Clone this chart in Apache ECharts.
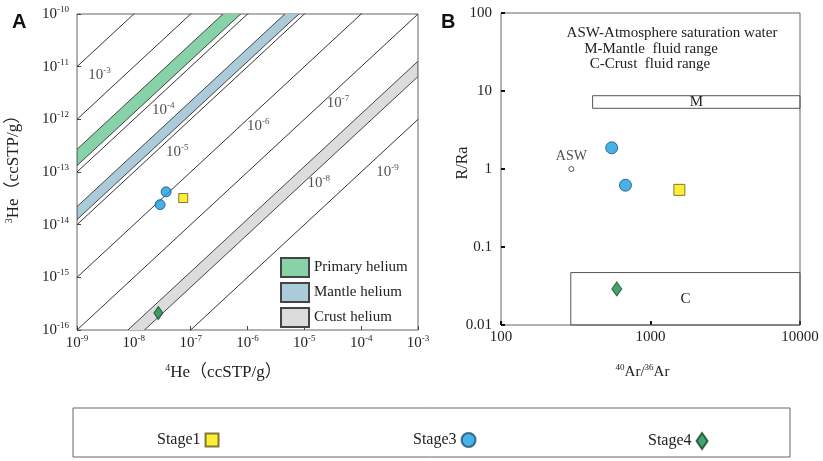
<!DOCTYPE html>
<html>
<head>
<meta charset="utf-8">
<script src="https://cdn.jsdelivr.net/npm/echarts@6/dist/echarts.min.js"></script>
<style>
  html, body { margin: 0; padding: 0; background: #fff; }
  #main { width: 823px; height: 461px; }
</style>
</head>
<body>
<div id="main"></div>
<script>
// ---- panel A : 3He vs 4He ----
var he4Range = [1e-9, 1e-3];
var he3Range = [1e-16, 1e-10];
// iso-ratio lines 3He/4He
var isoRatios = [1e-2, 1e-3, 1e-4, 1e-5, 1e-6, 1e-7, 1e-9];
// shaded ratio bands
var bandNames = ['Primary helium', 'Mantle helium', 'Crust helium'];
var bandLow = [1.32e-4, 1.25e-5, 6.5e-9];
var bandHigh = [2.7e-4, 2.2e-5, 1.27e-8];
// ratio labels (exponent, where it is written)
var ratioLabelExp = [-3, -4, -5, -6, -7, -8, -9];
var ratioLabelAt = [[2.5e-9, 7.0e-12], [3.3e-8, 1.5e-12], [5.8e-8, 2.4e-13], [1.55e-6, 7.5e-13],
                    [3.9e-5, 2.0e-12], [1.8e-5, 6.2e-14], [2.9e-4, 1.0e-13]];
var stage1He = [[7.4e-8, 3.2e-14]];
var stage3He = [[3.7e-8, 4.2e-14], [2.9e-8, 2.4e-14]];
var stage4He = [[2.7e-8, 2.1e-16]];

// ---- panel B : R/Ra vs 40Ar/36Ar ----
var arRange = [100, 10000];
var rRange = [0.01, 100];
var stage1Ar = [[1560, 0.54]];
var stage3Ar = [[550, 1.87], [680, 0.62]];
var stage4Ar = [[595, 0.029]];
var aswPoint = [[295.5, 1]];
var mantleBox = [[410, 6], [10000, 8.7]];
var crustBox = [[293, 0.01], [10000, 0.047]];
var notes = ['ASW-Atmosphere saturation water', 'M-Mantle  fluid range', 'C-Crust  fluid range'];

var SERIF = "'Liberation Serif', 'Noto Sans CJK SC', serif";
var TXT = '#222';
var bandColors = ['#88d2a8', '#abcbdb', '#dcdcdc'];
var stageStyle = {
  Stage1: { color: '#ffea00', borderColor: '#5e5a1e', borderWidth: 1 },
  Stage3: { color: '#1c9de0', borderColor: '#1f4f78', borderWidth: 1 },
  Stage4: { color: '#17894a', borderColor: '#0b4a26', borderWidth: 1 }
};

var supRich = {
  b: { fontFamily: SERIF, fontSize: 15, color: TXT, lineHeight: 18 },
  s: { fontFamily: SERIF, fontSize: 9, color: TXT, lineHeight: 9, verticalAlign: 'top' }
};
var titleRich = {
  b: { fontFamily: SERIF, fontSize: 17, color: TXT, lineHeight: 20 },
  s: { fontFamily: SERIF, fontSize: 10, color: TXT, lineHeight: 10, verticalAlign: 'top' }
};
function pow10(v) {
  var e = Math.round(Math.log10(v));
  return '{b|10}{s|' + e + '}';
}
function plain(v) {
  return String(parseFloat(Number(v).toPrecision(1)));
}

function logAxis(grid, range, fmt, margin, tickStyle) {
  return {
    type: 'log', logBase: 10, gridIndex: grid, min: range[0], max: range[1],
    axisLine: { show: false },
    axisTick: { show: true, inside: true, length: 4, lineStyle: tickStyle },
    splitLine: { show: false },
    nameMoveOverlap: false,
    axisLabel: { margin: margin, formatter: fmt, rich: supRich,
                 fontFamily: SERIF, fontSize: 15, color: TXT }
  };
}

var series = [];

// bands
bandNames.forEach(function (name, i) {
  series.push({
    type: 'custom', name: name, xAxisIndex: 0, yAxisIndex: 0, clip: true, silent: true,
    itemStyle: { color: bandColors[i], borderColor: '#444', borderWidth: 1 },
    data: [[bandLow[i], bandHigh[i]]],
    encode: { x: -1, y: -1 },
    renderItem: function (params, api) {
      var lo = bandLow[i], hi = bandHigh[i];
      var pts = [
        api.coord([he4Range[0], lo * he4Range[0]]),
        api.coord([he4Range[1], lo * he4Range[1]]),
        api.coord([he4Range[1], hi * he4Range[1]]),
        api.coord([he4Range[0], hi * he4Range[0]])
      ];
      return { type: 'polygon', shape: { points: pts },
               style: { fill: bandColors[i], stroke: '#444', lineWidth: 1 } };
    }
  });
});

// iso ratio lines
isoRatios.forEach(function (r) {
  series.push({
    type: 'line', xAxisIndex: 0, yAxisIndex: 0, symbol: 'none', silent: true, clip: true,
    lineStyle: { color: '#333', width: 1 },
    data: [[he4Range[0], r * he4Range[0]], [he4Range[1], r * he4Range[1]]]
  });
});

// ratio labels
series.push({
  type: 'scatter', xAxisIndex: 0, yAxisIndex: 0, symbolSize: 0, silent: true,
  data: ratioLabelAt.map(function (p, i) { return [p[0], p[1], ratioLabelExp[i]]; }),
  label: { show: true, position: 'inside', rich: supRich, color: TXT, textBorderWidth: 0,
           formatter: function (p) { return '{b|10}{s|' + p.value[2] + '}'; } }
});

function stageSeries(name, symbol, size, data, xi) {
  return {
    type: 'scatter', name: name, xAxisIndex: xi, yAxisIndex: xi, symbol: symbol,
    symbolSize: size, data: data, itemStyle: stageStyle[name], z: 5
  };
}
series.push(stageSeries('Stage1', 'rect', 9, stage1He, 0));
series.push(stageSeries('Stage3', 'circle', 10, stage3He, 0));
series.push(stageSeries('Stage4', 'diamond', [9, 13], stage4He, 0));

// panel B boxes
series.push({
  type: 'line', xAxisIndex: 1, yAxisIndex: 1, data: [], silent: true,
  markArea: {
    silent: true,
    itemStyle: { color: 'rgba(255,255,255,0)', borderColor: '#555', borderWidth: 1 },
    label: { show: true, position: 'inside', fontFamily: SERIF, fontSize: 15, color: TXT },
    data: [
      [{ name: 'M', coord: mantleBox[0] }, { coord: mantleBox[1] }],
      [{ name: 'C', coord: crustBox[0] }, { coord: crustBox[1] }]
    ]
  }
});
series.push({
  type: 'scatter', name: 'ASW', xAxisIndex: 1, yAxisIndex: 1, symbol: 'circle', symbolSize: 5,
  data: aswPoint, itemStyle: { color: '#fff', borderColor: '#333', borderWidth: 1 },
  label: { show: true, position: 'top', distance: 3, formatter: 'ASW',
           fontFamily: SERIF, fontSize: 14, color: TXT }
});
series.push(stageSeries('Stage1', 'rect', 11, stage1Ar, 1));
series.push(stageSeries('Stage3', 'circle', 12, stage3Ar, 1));
series.push(stageSeries('Stage4', 'diamond', [10, 14], stage4Ar, 1));

var thinTick = { color: '#444', width: 1 };
var boldTick = { color: '#111', width: 2 };

function stageLegend(name, icon, left, w, h) {
  return {
    data: [{ name: name, icon: icon }], left: left, top: 432, align: 'right', padding: 0,
    itemWidth: w, itemHeight: h, selectedMode: false,
    textStyle: { fontFamily: SERIF, fontSize: 16, color: TXT }
  };
}

var option = {
  animation: false,
  backgroundColor: '#fff',
  grid: [
    { left: 77, top: 14, width: 341, height: 316, show: true, borderColor: '#666',
      borderWidth: 1, outerBoundsMode: 'none' },
    { left: 501, top: 13, width: 299, height: 312, show: true, borderColor: '#666',
      borderWidth: 1, outerBoundsMode: 'none' }
  ],
  xAxis: [
    Object.assign(logAxis(0, he4Range, pow10, 4, thinTick), {
      name: '{s|4}{b|He（ccSTP/g）}', nameLocation: 'middle', nameGap: 33,
      nameTextStyle: { rich: titleRich, padding: [0, 48, 0, 0] }
    }),
    Object.assign(logAxis(1, arRange, plain, 5, boldTick), {
      name: '{s|40}{b|Ar/}{s|36}{b|Ar}', nameLocation: 'middle', nameGap: 38,
      nameTextStyle: { rich: supRich, padding: [0, 16, 0, 0] }
    })
  ],
  yAxis: [
    Object.assign(logAxis(0, he3Range, pow10, 8, thinTick), {
      name: '{s|3}{b|He（ccSTP/g）}', nameLocation: 'middle', nameGap: 53,
      nameTextStyle: { rich: titleRich, padding: [0, 0, 0, 14] }
    }),
    Object.assign(logAxis(1, rRange, plain, 9, boldTick), {
      name: 'R/Ra', nameLocation: 'middle', nameGap: 30,
      nameTextStyle: { fontFamily: SERIF, fontSize: 16, color: TXT, padding: [0, 0, 0, 12] }
    })
  ],
  legend: [
    { data: bandNames.map(function (n) { return { name: n, icon: 'rect' }; }),
      orient: 'vertical', left: 280, top: 257, itemWidth: 28, itemHeight: 19, itemGap: 4,
      padding: 0, selectedMode: false,
      textStyle: { fontFamily: SERIF, fontSize: 15, color: TXT } },
    stageLegend('Stage1', 'rect', 157, 13, 13),
    stageLegend('Stage3', 'circle', 413, 14, 14),
    stageLegend('Stage4', 'diamond', 648, 11, 16)
  ],
  graphic: [
    { type: 'text', left: 12, top: 12, style: { text: 'A', font: 'bold 20px Arial, sans-serif', fill: '#111' } },
    { type: 'text', left: 441, top: 12, style: { text: 'B', font: 'bold 20px Arial, sans-serif', fill: '#111' } },
    { type: 'rect', shape: { x: 73, y: 408, width: 717, height: 49 },
      style: { fill: 'none', stroke: '#666', lineWidth: 1 } },
    { type: 'text', x: 672, y: 33, style: { text: notes[0], font: '15px ' + SERIF, fill: TXT,
      textAlign: 'center', textVerticalAlign: 'middle' } },
    { type: 'text', x: 651, y: 49, style: { text: notes[1], font: '15px ' + SERIF, fill: TXT,
      textAlign: 'center', textVerticalAlign: 'middle' } },
    { type: 'text', x: 650, y: 64, style: { text: notes[2], font: '15px ' + SERIF, fill: TXT,
      textAlign: 'center', textVerticalAlign: 'middle' } }
  ],
  series: series
};

var chart = echarts.init(document.getElementById('main'));
chart.setOption(option);
</script>
</body>
</html>
